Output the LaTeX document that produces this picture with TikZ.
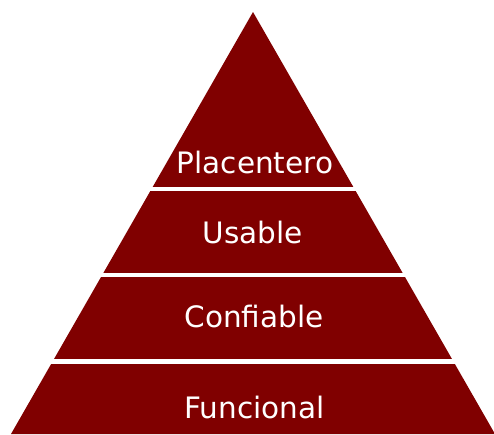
\documentclass[tikz,border=0pt]{standalone}
\usepackage{fontspec}
\setmainfont{DejaVu Sans}
\definecolor{pyr}{RGB}{128,0,0}
\begin{document}
\begin{tikzpicture}[x=1pt,y=-1pt,
  band/.style={fill=pyr,draw=none},
  gap/.style={draw=white,line width=4pt},
  lbl/.style={text=white,anchor=base,font=\fontsize{29.5}{34}\selectfont,inner sep=0pt}]
\useasboundingbox (0,0) rectangle (494,434);
\fill[white] (0,0) rectangle (494,434);
% pyramid: apex (253,12), half-width slope 0.5735
\fill[band] (253,12) -- (495,434) -- (11,434) -- cycle;
\coordinate (L1) at (0,188.5); \coordinate (R1) at (494,188.5);
\coordinate (L2) at (0,274.5); \coordinate (R2) at (494,274.5);
\coordinate (L3) at (0,361); \coordinate (R3) at (494,361);
\draw[gap] (L1) -- (R1);
\draw[gap] (L2) -- (R2);
\draw[gap,line width=5pt] (L3) -- (R3);
\node[lbl] (placentero) at (255,173.5) {Placentero};
\node[lbl] (usable) at (253,243) {Usable};
\node[lbl] (confiable) at (254,327) {Confiable};
\node[lbl] (funcional) at (254.5,418) {Funcional};
\end{tikzpicture}
\end{document}
